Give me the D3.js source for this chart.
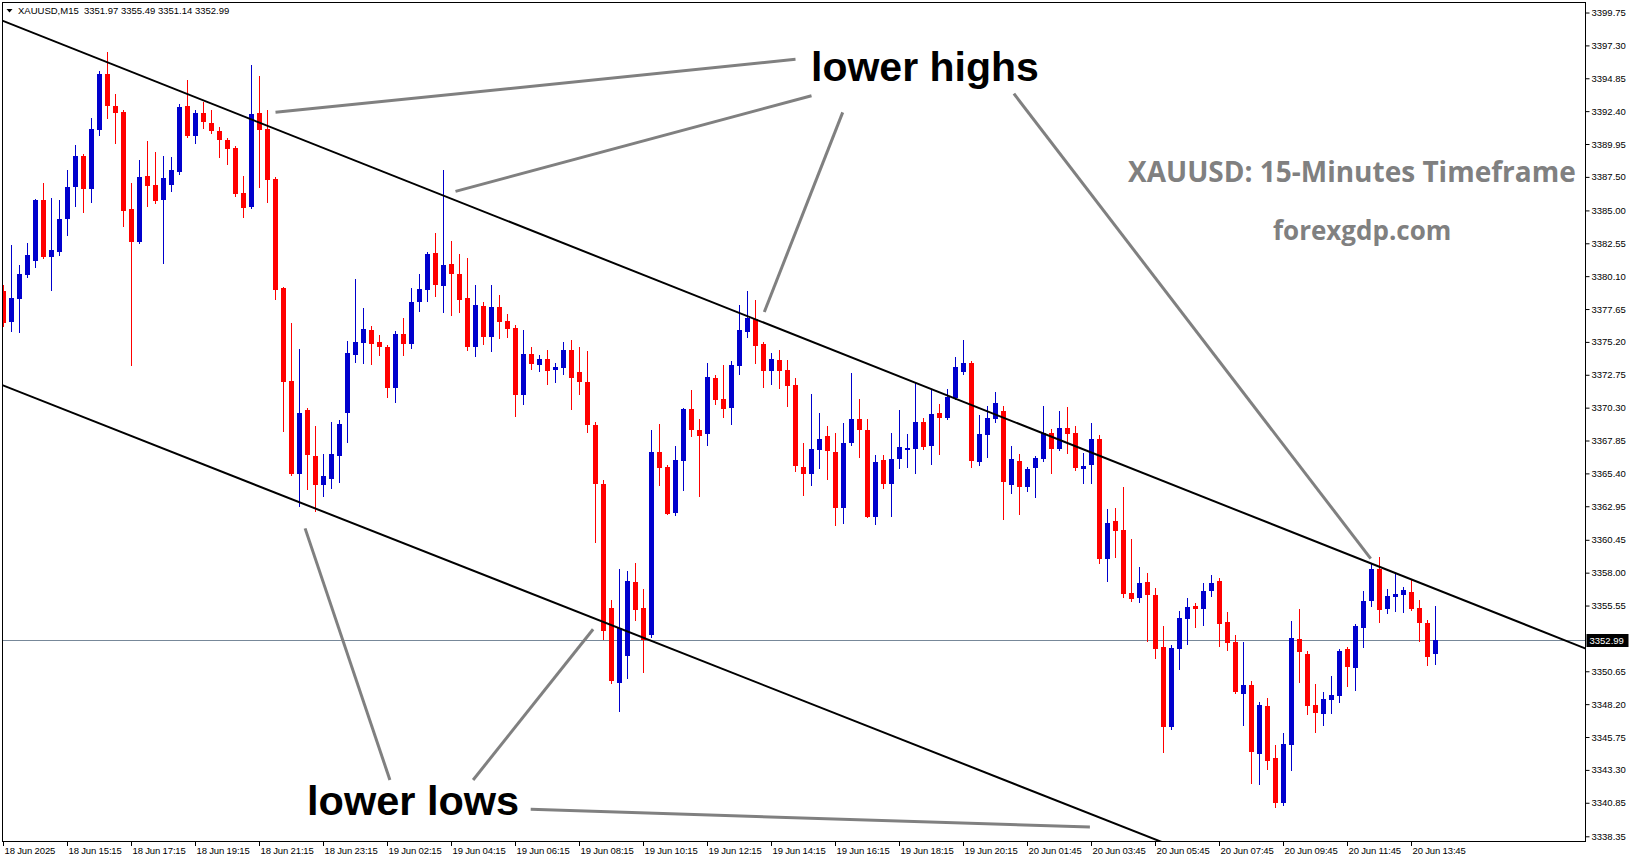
<!DOCTYPE html>
<html lang="en">
<head>
  <meta charset="UTF-8">
  <title>XAUUSD M15</title>
  <script src="https://d3js.org/d3.v7.min.js"></script>
  <style>
    body { margin: 0; background: #fff; }
    .axis text { font-family: "Liberation Sans", Arial, sans-serif; font-size: 9.5px; fill: #000; }
    .axis line { stroke: #000; }
    .note { font-family: "Liberation Sans", Arial, sans-serif; font-weight: bold; }
    .brand { font-family: "Open Sans", sans-serif; font-weight: bold; fill: #808080; }
  </style>
</head>
<body>
  <svg width="1631" height="861"></svg>

  <script>
    // time axis labels, one every 8 bars (2 hours)
    const timeLabels = ["18 Jun 2025", "18 Jun 15:15", "18 Jun 17:15", "18 Jun 19:15", "18 Jun 21:15",
      "18 Jun 23:15", "19 Jun 02:15", "19 Jun 04:15", "19 Jun 06:15", "19 Jun 08:15", "19 Jun 10:15",
      "19 Jun 12:15", "19 Jun 14:15", "19 Jun 16:15", "19 Jun 18:15", "19 Jun 20:15", "20 Jun 01:45",
      "20 Jun 03:45", "20 Jun 05:45", "20 Jun 07:45", "20 Jun 09:45", "20 Jun 11:45", "20 Jun 13:45"];

    const priceTicks = [3399.75, 3397.30, 3394.85, 3392.40, 3389.95, 3387.50, 3385.00, 3382.55, 3380.10,
      3377.65, 3375.20, 3372.75, 3370.30, 3367.85, 3365.40, 3362.95, 3360.45, 3358.00, 3355.55,
      3350.65, 3348.20, 3345.75, 3343.30, 3340.85, 3338.35];

    // M15 bars
    const opens = [3378.99,3376.68,3378.40,3380.18,3381.23,3385.77,3381.53,3381.90,3384.36,3386.74,
      3389.05,3386.59,3390.99,3395.16,3392.78,3392.33,3385.10,3382.64,3387.56,3386.89,
      3385.77,3386.89,3387.86,3392.78,3390.54,3392.26,3391.51,3390.92,3390.25,3389.65,
      3386.30,3385.25,3392.26,3391.07,3387.34,3379.22,3372.28,3365.35,3370.12,3366.69,
      3364.53,3364.98,3366.69,3369.90,3374.22,3375.12,3376.09,3375.19,3374.82,3371.76,
      3375.79,3375.04,3378.17,3379.07,3381.82,3379.36,3381.00,3380.26,3378.47,3374.82,
      3377.87,3375.56,3377.80,3376.76,3376.23,3371.24,3374.30,3373.48,3373.92,3373.10,
      3373.25,3374.59,3372.95,3372.21,3369.00,3364.61,3355.37,3349.78,3351.79,3357.30,
      3355.37,3353.35,3366.99,3365.87,3362.45,3366.32,3370.20,3368.63,3368.33,3372.51,
      3370.94,3370.27,3373.40,3375.94,3376.90,3375.04,3373.03,3373.85,3373.10,3371.99,
      3365.87,3365.35,3367.14,3368.18,3366.99,3362.82,3367.66,3369.45,3368.63,3362.15,
      3366.40,3364.61,3366.47,3367.14,3367.22,3369.23,3367.44,3369.90,3369.53,3371.02,
      3372.95,3373.63,3366.25,3368.26,3369.45,3370.05,3364.53,3366.32,3364.38,3365.80,
      3366.47,3368.41,3367.22,3368.78,3368.41,3365.73,3366.02,3367.96,3359.02,3361.85,
      3361.18,3356.48,3356.11,3357.30,3356.33,3352.46,3346.50,3352.31,3354.55,3355.51,
      3355.29,3356.63,3357.38,3354.32,3352.83,3348.96,3349.63,3344.48,3348.06,3344.19,
      3340.83,3345.16,3353.06,3351.94,3348.14,3347.47,3348.51,3348.81,3352.31,3350.89,
      3353.88,3355.89,3358.27,3355.29,3356.19,3356.33,3356.56,3355.37,3354.25,3351.97];

    const highs = [3379.44,3382.42,3380.93,3382.57,3385.85,3387.04,3385.92,3385.77,3388.01,3389.87,
      3389.20,3391.89,3395.39,3396.80,3393.67,3392.48,3387.04,3388.76,3390.17,3389.35,
      3389.05,3388.98,3392.93,3394.72,3392.48,3393.08,3392.48,3391.21,3390.39,3389.80,
      3387.56,3395.84,3395.02,3392.48,3387.49,3379.29,3376.61,3374.67,3370.27,3368.93,
      3366.84,3369.23,3369.38,3375.27,3379.89,3377.72,3376.38,3375.71,3374.97,3376.01,
      3376.98,3379.22,3380.26,3381.90,3383.31,3388.01,3382.72,3381.75,3381.45,3379.44,
      3378.17,3379.44,3378.69,3377.28,3376.46,3376.09,3374.82,3374.22,3374.59,3373.63,
      3375.19,3375.34,3374.82,3374.52,3369.23,3364.91,3355.96,3358.27,3358.12,3358.72,
      3356.78,3368.63,3369.08,3366.02,3367.44,3370.27,3371.61,3369.45,3373.63,3372.73,
      3373.48,3373.77,3377.95,3378.99,3378.32,3375.19,3374.37,3374.59,3373.85,3372.51,
      3367.66,3371.32,3369.90,3368.93,3368.41,3369.15,3372.88,3370.94,3369.45,3366.77,
      3366.77,3368.41,3370.12,3368.33,3372.13,3369.53,3371.69,3370.57,3371.69,3374.07,
      3375.34,3373.77,3369.75,3370.42,3371.46,3370.42,3367.44,3366.84,3365.87,3366.69,
      3370.42,3368.71,3370.05,3370.35,3368.93,3366.92,3369.15,3368.26,3362.74,3362.82,
      3364.38,3360.51,3358.42,3357.97,3356.86,3354.02,3352.61,3355.14,3356.11,3355.74,
      3357.23,3357.83,3357.60,3355.07,3353.35,3352.83,3349.93,3348.36,3348.66,3345.16,
      3346.05,3354.40,3355.29,3352.16,3349.70,3349.11,3350.30,3352.31,3352.46,3354.17,
      3356.63,3358.65,3359.17,3356.78,3357.97,3356.93,3357.45,3355.96,3354.47,3355.49];

    const lows = [3376.31,3375.94,3375.86,3379.96,3380.71,3381.38,3378.99,3381.60,3383.09,3385.25,
      3384.81,3385.55,3390.54,3391.81,3389.95,3383.76,3373.40,3382.49,3385.25,3385.48,
      3381.00,3386.37,3387.64,3390.39,3389.95,3391.07,3390.69,3388.90,3388.38,3386.00,
      3384.43,3385.10,3386.67,3385.55,3378.32,3368.48,3365.20,3362.89,3364.16,3362.52,
      3363.64,3364.23,3364.68,3367.66,3373.63,3373.55,3373.48,3374.15,3371.02,3370.64,
      3374.15,3374.67,3377.43,3378.17,3378.54,3377.35,3377.13,3377.35,3374.52,3374.07,
      3374.97,3374.45,3375.41,3375.49,3369.60,3370.50,3373.10,3372.95,3371.99,3372.13,
      3372.73,3370.12,3371.24,3368.41,3360.21,3352.98,3349.70,3347.61,3350.07,3354.40,
      3350.52,3353.13,3364.46,3362.30,3362.22,3364.09,3368.11,3363.64,3367.44,3370.50,
      3369.53,3369.00,3372.73,3375.49,3373.55,3371.76,3371.99,3371.69,3370.35,3365.50,
      3363.71,3364.46,3365.73,3364.91,3361.48,3361.63,3367.44,3366.55,3362.07,3361.55,
      3364.23,3362.15,3365.73,3365.80,3365.35,3367.14,3366.02,3366.77,3369.38,3370.87,
      3372.73,3365.80,3365.95,3366.55,3369.15,3361.92,3363.86,3362.30,3364.01,3363.56,
      3366.25,3365.35,3367.07,3366.84,3365.58,3364.61,3364.61,3358.64,3357.30,3359.09,
      3356.11,3355.81,3355.74,3352.83,3351.56,3344.56,3346.27,3350.74,3352.61,3353.88,
      3354.02,3356.19,3352.46,3352.16,3348.96,3346.57,3342.25,3342.17,3343.29,3340.46,
      3340.61,3343.22,3349.78,3347.39,3346.05,3346.57,3347.47,3348.29,3349.48,3349.18,
      3352.38,3355.44,3354.25,3354.92,3355.07,3354.99,3355.14,3352.83,3351.04,3351.14];

    const closes = [3376.61,3378.47,3380.26,3381.67,3385.77,3381.53,3382.05,3384.36,3386.74,3389.05,
      3386.59,3391.07,3395.16,3392.78,3392.26,3384.95,3382.64,3387.49,3386.82,3385.70,
      3387.41,3388.01,3392.71,3390.54,3392.26,3391.59,3390.92,3390.25,3389.58,3386.22,
      3385.18,3392.18,3390.99,3387.26,3379.07,3372.21,3365.35,3369.90,3366.77,3364.53,
      3365.20,3366.84,3369.08,3374.37,3375.19,3376.16,3375.04,3374.82,3371.76,3375.79,
      3375.04,3378.17,3379.14,3381.75,3379.44,3380.93,3380.26,3378.32,3374.82,3377.95,
      3375.56,3377.80,3376.68,3376.16,3371.24,3374.30,3373.55,3373.92,3373.03,3373.33,
      3374.59,3372.51,3372.21,3369.00,3364.61,3353.65,3349.93,3353.88,3357.38,3355.22,
      3352.98,3366.99,3365.80,3362.37,3366.40,3370.20,3368.63,3368.18,3372.58,3370.87,
      3370.20,3373.48,3376.09,3376.98,3374.89,3373.03,3373.92,3373.03,3371.91,3365.95,
      3365.35,3367.22,3367.96,3367.07,3362.82,3367.66,3369.45,3368.63,3362.15,3366.25,
      3364.61,3366.47,3367.37,3367.29,3369.23,3367.37,3369.82,3369.53,3371.09,3373.33,
      3373.63,3366.32,3368.33,3369.53,3370.64,3364.76,3366.47,3364.38,3365.73,3366.55,
      3368.41,3367.22,3368.78,3368.33,3365.80,3365.95,3367.96,3359.02,3361.70,3361.10,
      3356.41,3356.04,3357.23,3356.33,3352.31,3346.50,3352.38,3354.62,3355.44,3355.29,
      3356.63,3357.23,3354.17,3352.76,3349.11,3349.63,3344.63,3348.14,3343.96,3340.83,
      3345.23,3353.13,3352.09,3348.06,3347.54,3348.58,3348.88,3352.16,3350.97,3354.02,
      3355.89,3358.27,3355.22,3356.26,3356.41,3356.71,3355.29,3354.25,3351.71,3352.99];

    const lastPrice = 3352.99;

    // trend channel, [bar index, price]
    const upperChannel = [[0, 3399.11], [179, 3356.78]];
    const lowerChannel = [[0, 3371.94], [134, 3340.46]];

    // grey pointer lines, [bar index, price]
    const pointerLines = [
      [[34.0, 3392.31], [99.0, 3396.26]],
      [[56.5, 3386.42], [101.0, 3393.55]],
      [[95.1, 3377.43], [104.9, 3392.31]],
      [[126.3, 3393.70], [170.9, 3359.05]],
      [[37.7, 3361.30], [48.3, 3342.55]],
      [[58.7, 3342.55], [73.7, 3353.78]],
      [[65.9, 3340.36], [135.8, 3339.04]]
    ];

    const bars = opens.map((o, i) => ({ i: i, o: o, h: highs[i], l: lows[i], c: closes[i] }));

    const svg = d3.select("svg"),
          plotLeft = 2.5, plotRight = 1585.5, plotTop = 2.5, plotBottom = 841;

    // 198 bar slots, 8px each; the last 18 are the chart shift on the right
    const x = d3.scaleBand()
                .domain(d3.range(198))
                .range([-0.5, 1583.5]);
    const y = d3.scaleLinear()
                .domain([3338.00, 3400.46])
                .range([841, 3]);
    const cx = i => x(i) + x.bandwidth() / 2;
    const xi = v => x(0) + x.bandwidth() / 2 + v * x.bandwidth();

    svg.append("defs").append("clipPath").attr("id", "plot")
      .append("rect")
      .attr("x", plotLeft).attr("y", plotTop)
      .attr("width", plotRight - plotLeft).attr("height", plotBottom - plotTop);

    const g = svg.append("g").attr("clip-path", "url(#plot)");

    // bid line
    g.append("line")
      .attr("x1", plotLeft).attr("x2", plotRight)
      .attr("y1", Math.round(y(lastPrice)) + 0.5).attr("y2", Math.round(y(lastPrice)) + 0.5)
      .attr("stroke", "#778899").attr("stroke-width", 1);

    // candles
    const candle = g.selectAll(".candle")
      .data(bars)
      .enter().append("g")
      .attr("class", "candle")
      .attr("shape-rendering", "crispEdges");

    candle.append("line")
      .attr("x1", d => cx(d.i)).attr("x2", d => cx(d.i))
      .attr("y1", d => Math.round(y(d.h))).attr("y2", d => Math.round(y(d.l)))
      .attr("stroke", d => d.c > d.o ? "#0000cd" : "#ff0000");

    candle.append("rect")
      .attr("x", d => cx(d.i) - 2.5)
      .attr("width", 5)
      .attr("y", d => Math.round(y(Math.max(d.o, d.c))))
      .attr("height", d => Math.max(1, Math.round(y(Math.min(d.o, d.c))) - Math.round(y(Math.max(d.o, d.c)))))
      .attr("fill", d => d.c > d.o ? "#0000cd" : "#ff0000");

    // channel lines, extended across the plot
    function ray(pts) {
      const [a, b] = pts;
      const k = (b[1] - a[1]) / (b[0] - a[0]);
      const i0 = -2, i1 = 200;
      return [[xi(i0), y(a[1] + k * (i0 - a[0]))], [xi(i1), y(a[1] + k * (i1 - a[0]))]];
    }
    [upperChannel, lowerChannel].forEach(ch => {
      g.append("path")
        .attr("d", d3.line()(ray(ch)))
        .attr("stroke", "#000").attr("stroke-width", 2).attr("fill", "none");
    });

    // grey pointers
    g.selectAll(".pointer")
      .data(pointerLines)
      .enter().append("path")
      .attr("class", "pointer")
      .attr("d", d => d3.line()(d.map(p => [xi(p[0]), y(p[1])])))
      .attr("stroke", "#808080").attr("stroke-width", 3).attr("fill", "none");

    // frame
    svg.append("rect")
      .attr("x", plotLeft).attr("y", plotTop)
      .attr("width", plotRight - plotLeft).attr("height", plotBottom + 0.5 - plotTop)
      .attr("fill", "none").attr("stroke", "#000").attr("stroke-width", 1);

    // price axis
    const yAxis = svg.append("g")
      .attr("class", "axis")
      .attr("transform", "translate(" + plotRight + ",0)")
      .call(d3.axisRight(y).tickValues(priceTicks).tickFormat(d3.format(".2f")).tickSize(4).tickSizeOuter(0).tickPadding(2));
    yAxis.select(".domain").remove();

    const py = Math.round(y(lastPrice));
    svg.append("rect")
      .attr("x", plotRight + 1).attr("y", py - 6)
      .attr("width", 42).attr("height", 13)
      .attr("fill", "#000");
    svg.append("text")
      .attr("x", plotRight + 4).attr("y", py + 4)
      .style("font-family", "Liberation Sans, Arial, sans-serif").style("font-size", "9.5px")
      .attr("fill", "#fff")
      .text(lastPrice.toFixed(2));

    // time axis
    const xAxis = svg.append("g")
      .attr("class", "axis")
      .attr("transform", "translate(0," + plotBottom + ")")
      .call(d3.axisBottom(x).tickValues(d3.range(0, 180, 8)).tickFormat((d, i) => timeLabels[i]).tickSize(5).tickSizeOuter(0));
    xAxis.select(".domain").remove();
    xAxis.selectAll("text")
      .attr("text-anchor", "start")
      .style("letter-spacing", "-0.15px")
      .attr("x", 1).attr("y", 6).attr("dy", "0.71em");

    // header
    svg.append("path")
      .attr("d", "M6.5,9L12.5,9L9.5,12.5Z")
      .attr("fill", "#000");
    svg.append("text")
      .attr("x", 18).attr("y", 14)
      .style("font-family", "Liberation Sans, Arial, sans-serif").style("font-size", "9.5px")
      .attr("fill", "#000")
      .attr("xml:space", "preserve")
      .text("XAUUSD,M15  3351.97 3355.49 3351.14 3352.99");

    // annotations
    svg.append("text").attr("class", "note")
      .attr("x", 811).attr("y", 81).style("font-size", "41px")
      .text("lower highs");
    svg.append("text").attr("class", "note")
      .attr("x", 307).attr("y", 815).style("font-size", "41.5px")
      .text("lower lows");
    svg.append("text").attr("class", "brand")
      .attr("x", 1128).attr("y", 182).style("font-size", "28px")
      .text("XAUUSD: 15-Minutes Timeframe");
    svg.append("text").attr("class", "brand")
      .attr("x", 1273).attr("y", 240).style("font-size", "26px")
      .text("forexgdp.com");
  </script>
</body>
</html>
